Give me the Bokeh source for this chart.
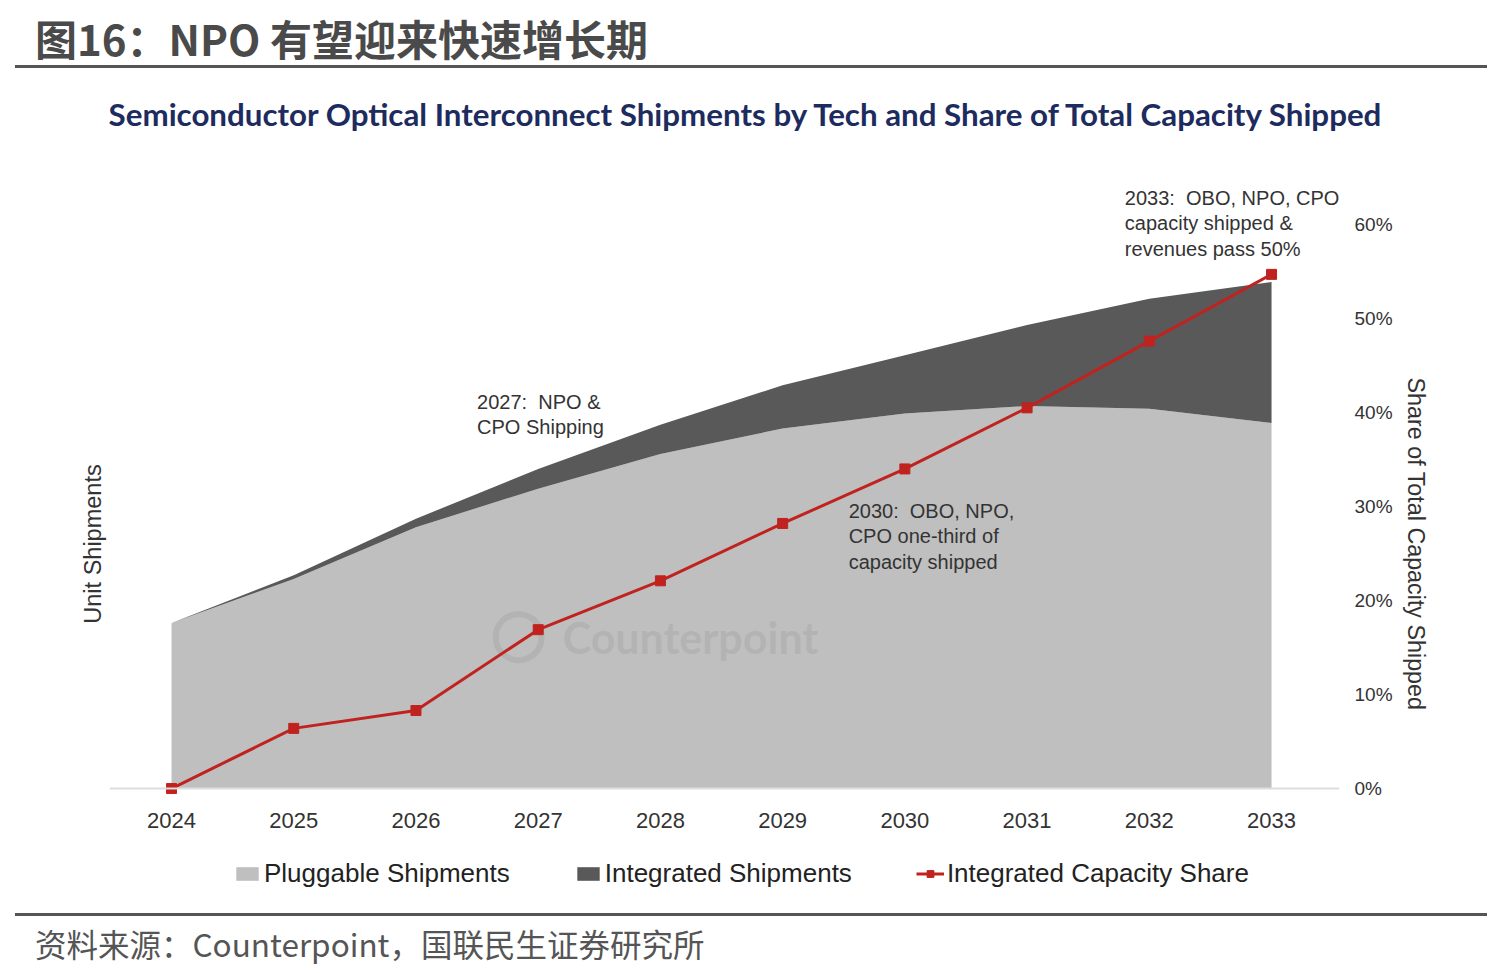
from bokeh.plotting import figure
from bokeh.models import (ColumnDataSource, Range1d, LinearAxis, FixedTicker,
                          Span, Label, Legend, LegendItem, Div)
from bokeh.layouts import column
from bokeh.embed import file_html
from bokeh.resources import INLINE

# values (shipments in an arbitrary index, share in %)
years = [2024, 2025, 2026, 2027, 2028, 2029, 2030, 2031, 2032, 2033]
pluggable = [17.6, 22.3, 27.8, 31.9, 35.6, 38.3, 39.9, 40.7, 40.4, 38.9]
integrated = [0.0, 0.4, 0.9, 2.1, 3.1, 4.6, 6.2, 8.6, 11.7, 15.0]
share = [0.0, 6.4, 8.3, 16.9, 22.1, 28.2, 34.0, 40.5, 47.6, 54.7]
share_ticks = [0, 10, 20, 30, 40, 50, 60]
share_labels = ["0%", "10%", "20%", "30%", "40%", "50%", "60%"]

fig_title = "图16：NPO 有望迎来快速增长期"
chart_title = "Semiconductor Optical Interconnect Shipments by Tech and Share of Total Capacity Shipped"
source_note = "资料来源：Counterpoint，国联民生证券研究所"
notes = [
    (2026.50, 42.3, "2027:\u00a0 NPO &\nCPO Shipping"),
    (2029.54, 30.7, "2030:\u00a0 OBO, NPO,\nCPO one-third of\ncapacity shipped"),
    (2031.80, 64.0, "2033:\u00a0 OBO, NPO, CPO\ncapacity shipped &\nrevenues pass 50%"),
]

c_plug = "#bfbfbf"
c_integ = "#595959"
c_red = "#c0231f"
txt = "#333333"
font = "Liberation Sans"

src = ColumnDataSource(data=dict(year=years, pluggable=pluggable,
                                 integrated=integrated, share=share))

header = Div(
    text='<div style="width:1472px;height:60px;margin-top:3px;margin-left:10px;border-bottom:3px solid #555;'
         'font-family:\'Noto Sans CJK SC\';font-weight:bold;font-size:42px;color:#4a4a4a;'
         'line-height:60px;padding-left:20px;box-sizing:border-box;">' + fig_title + '</div>'
         '<div style="width:1466px;height:58px;margin-top:17px;margin-left:7px;text-align:center;'
         'font-family:Lato;font-weight:bold;font-size:31.3px;color:#1d2b5e;line-height:58px;'
         'white-space:nowrap;">' + chart_title + '</div>',
    width=1476, height=138)

p = figure(width=1476, height=760, output_backend="svg", toolbar_location=None,
           x_range=Range1d(2023.4926, 2033.556), y_range=Range1d(-12.23, 64.26),
           min_border_left=109, min_border_right=137, min_border_top=36,
           min_border_bottom=5)
p.extra_y_ranges = {"share": Range1d(-12.23, 64.26)}
p.outline_line_color = None
p.xgrid.visible = False
p.ygrid.visible = False

areas = p.varea_stack(["pluggable", "integrated"], x="year", source=src,
                      color=[c_plug, c_integ])

p.add_layout(Span(location=0, dimension="width", line_color="#dddddd", line_width=2))

# watermark
p.scatter([2026.84], [16.1], marker="circle", size=46, fill_color=None,
          line_color="#a8a8a8", line_width=6, line_alpha=0.5)
p.add_layout(Label(x=2027.2, y=16.1, text="Counterpoint", text_font="Lato",
                   text_font_style="bold", text_font_size="43px", text_color="#a8a8a8",
                   text_alpha=0.5, text_baseline="middle"))

ln = p.line("year", "share", source=src, y_range_name="share", line_color=c_red, line_width=3)
sq = p.scatter("year", "share", source=src, y_range_name="share", marker="square",
               size=10, color=c_red)

for x, y, t in notes:
    p.add_layout(Label(x=x, y=y, text=t, text_font=font, text_font_size="20px",
                       text_color=txt, text_baseline="top", text_line_height=1.15))

# axes
p.xaxis.fixed_location = 0
p.xaxis.ticker = FixedTicker(ticks=years)
p.xaxis.axis_line_color = None
p.xaxis.major_tick_line_color = None
p.xaxis.minor_tick_line_color = None
p.xaxis.major_label_text_font = font
p.xaxis.major_label_text_font_size = "22px"
p.xaxis.major_label_text_color = txt
p.xaxis.major_label_standoff = 18

p.yaxis.ticker = FixedTicker(ticks=[])
p.yaxis.axis_line_color = None
p.yaxis.major_tick_line_color = None
p.yaxis.minor_tick_line_color = None
p.yaxis.axis_label = "Unit Shipments"
p.yaxis.axis_label_text_font = font
p.yaxis.axis_label_text_font_style = "normal"
p.yaxis.axis_label_text_font_size = "23.5px"
p.yaxis.axis_label_text_color = txt
p.yaxis.axis_label_standoff = 4

right = LinearAxis(y_range_name="share", ticker=FixedTicker(ticks=share_ticks),
                   major_label_overrides={t: l for t, l in zip(share_ticks, share_labels)})
right.axis_line_color = None
right.major_tick_line_color = None
right.minor_tick_line_color = None
right.major_label_text_font = font
right.major_label_text_font_size = "19px"
right.major_label_text_color = txt
right.major_label_standoff = 9
p.add_layout(right, "right")

right_label = LinearAxis(y_range_name="share", ticker=FixedTicker(ticks=[]),
                         axis_label="Share of Total Capacity Shipped")
right_label.axis_line_color = None
right_label.major_tick_line_color = None
right_label.minor_tick_line_color = None
right_label.axis_label_text_font = font
right_label.axis_label_text_font_style = "normal"
right_label.axis_label_text_font_size = "23.3px"
right_label.axis_label_text_color = txt
right_label.axis_label_standoff = 7
p.add_layout(right_label, "right")

legend = Legend(items=[
    LegendItem(label="Pluggable Shipments", renderers=[areas[0]]),
    LegendItem(label="Integrated Shipments", renderers=[areas[1]]),
    LegendItem(label="Integrated Capacity Share", renderers=[ln, sq]),
], orientation="horizontal", location=(124, 14))
legend.label_text_font = font
legend.label_text_font_size = "26px"
legend.label_text_color = "#222222"
legend.glyph_width = 28
legend.glyph_height = 17
legend.label_standoff = 3
legend.spacing = 64
legend.padding = 5
legend.margin = 0
legend.border_line_color = None
legend.background_fill_alpha = 0
p.add_layout(legend)

source = Div(
    text='<div style="width:1472px;height:52px;margin-left:10px;border-top:3px solid #555;'
         'font-family:\'Noto Sans CJK SC\';font-size:31.5px;color:#555555;'
         'line-height:55px;padding-left:20px;box-sizing:border-box;">' + source_note + '</div>',
    width=1476, height=52)

layout = column(header, p, source, spacing=0)
open("out.html", "w").write(file_html(layout, INLINE))
